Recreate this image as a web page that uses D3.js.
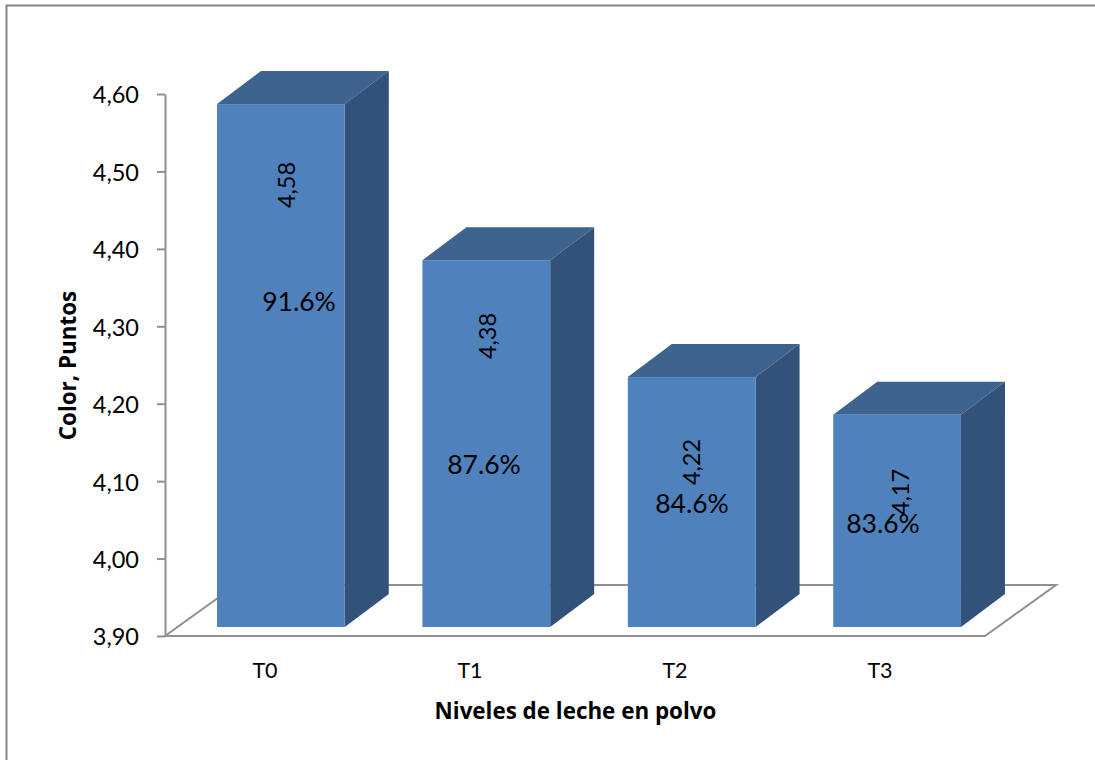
<!DOCTYPE html>
<html><head><meta charset="utf-8">
<script src="https://cdnjs.cloudflare.com/ajax/libs/d3/7.8.5/d3.min.js"></script>
<style>html,body{margin:0;padding:0;background:#fff}svg{display:block}text{font-family:Lato,"Open Sans",sans-serif;fill:#000}</style>
</head><body><svg id="c" width="1095" height="760"></svg>
<script>
const categories = ["T0","T1","T2","T3"];
const barHeights = [4.58,4.377,4.225,4.176];
const valueLabels = ["4,58","4,38","4,22","4,17"];
const percentLabels = ["91.6%","87.6%","84.6%","83.6%"];
const yTicks = [3.9,4.0,4.1,4.2,4.3,4.4,4.5,4.6];
const xAxisTitle = "Niveles de leche en polvo";
const yAxisTitle = "Color, Puntos";

// Layout (hand placed labels, as in the source)
const valueLabelPos = [[286,185],[487,336],[691,462],[900,492]];
const percentLabelPos = [[299,301],[484,464],[692,503],[883,523]];
const depth = {dx:44, dy:-33};
const floorDepth = {dx:71, dy:-51};

const svg = d3.select("#c");
svg.append("path").attr("d","M6.5,770V5.5H1105").attr("fill","none").attr("stroke","#868686").attr("stroke-width",2);

const x = d3.scaleBand().domain(categories).range([165,985]);
const xBar = d3.scaleBand().domain(categories).range([178,1000]).paddingInner(0.378).paddingOuter(0.19);
const y = d3.scaleLinear().domain([3.9,4.6]).range([636,94]);
const yBar = d3.scaleLinear().domain([3.9,4.6]).range([627,88.7]);

// floor
const fl = [[165,636],[985,636],[985+floorDepth.dx,636+floorDepth.dy],[165+floorDepth.dx,636+floorDepth.dy]];
svg.append("path").attr("d",d3.line()(fl)+"Z").attr("fill","#fff").attr("stroke","#909090").attr("stroke-width",2);

// bars
const g = svg.selectAll(".bar").data(categories.map((c,i)=>({c,v:barHeights[i]}))).join("g").attr("class","bar");
const poly = d3.line();
g.append("path").attr("fill","#3e638f").attr("d",d=>{const l=xBar(d.c),r=l+xBar.bandwidth(),t=yBar(d.v);
  return poly([[l,t],[l+depth.dx,t+depth.dy],[r+depth.dx,t+depth.dy],[r,t]])+"Z";});
g.append("path").attr("fill","#325279").attr("d",d=>{const r=xBar(d.c)+xBar.bandwidth(),t=yBar(d.v),b=yBar(3.9);
  return poly([[r,t],[r+depth.dx,t+depth.dy],[r+depth.dx,b+depth.dy],[r,b]])+"Z";});
g.append("rect").attr("fill","#4f81bd").attr("x",d=>xBar(d.c)).attr("width",xBar.bandwidth())
  .attr("y",d=>yBar(d.v)).attr("height",d=>yBar(3.9)-yBar(d.v));

// axes
const yAxis = d3.axisLeft(y).tickValues(yTicks).tickSize(8).tickSizeOuter(0).tickPadding(18).tickFormat(d=>d3.format(".2f")(d).replace(".",","));
const ya = svg.append("g").attr("transform","translate(165,0)").call(yAxis);
ya.selectAll("path,line").attr("stroke","#909090").attr("stroke-width",2);
ya.selectAll("text").attr("font-size",23.5).attr("dy","0.38em").style("font-family","Lato");

const xAxis = d3.axisBottom(x).tickSize(0).tickPadding(27);
const xa = svg.append("g").attr("transform","translate(-2.5,636)").call(xAxis);
xa.select("path").remove();
xa.selectAll("text").attr("font-size",21.5).style("font-family","Lato");

// titles
svg.append("text").attr("x",575.5).attr("y",719).attr("text-anchor","middle").attr("font-size",22.4).attr("font-weight","700").style("font-family","'Open Sans'").text(xAxisTitle);
svg.append("text").attr("transform","translate(76,365.5) rotate(-90)").attr("text-anchor","middle").attr("font-size",22.4).attr("font-weight","700").style("font-family","'Open Sans'").text(yAxisTitle);

// data labels
svg.selectAll(".v").data(valueLabels).join("text").attr("class","v").attr("font-size",23.5)
  .attr("text-anchor","middle").attr("dominant-baseline","central")
  .attr("transform",(d,i)=>`translate(${valueLabelPos[i][0]},${valueLabelPos[i][1]}) rotate(-90)`).text(d=>d);
svg.selectAll(".p").data(percentLabels).join("text").attr("class","p").attr("font-size",26.5)
  .attr("text-anchor","middle").attr("dominant-baseline","central")
  .attr("x",(d,i)=>percentLabelPos[i][0]).attr("y",(d,i)=>percentLabelPos[i][1]).text(d=>d);
</script></body></html>
